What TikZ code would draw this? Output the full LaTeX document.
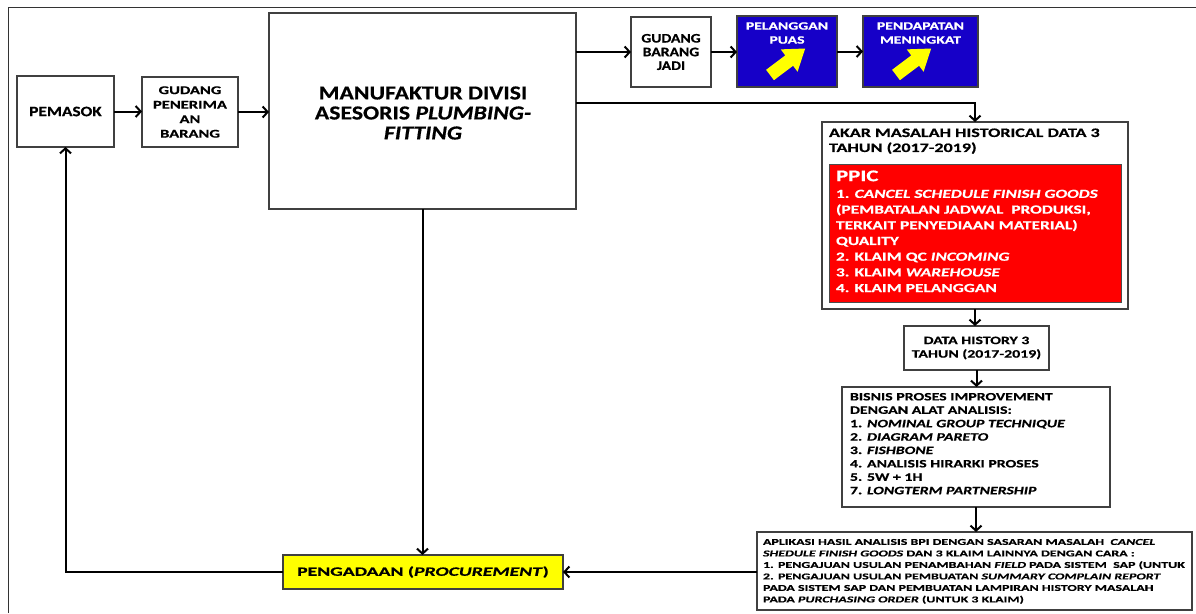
\documentclass[tikz,border=0pt]{standalone}
\usepackage{fontspec}
\setmainfont{Carlito}[FakeStretch=1.2, BoldFeatures={FakeBold=0.6}, BoldItalicFeatures={FakeBold=0.6}]
\newfontfamily\wide{Carlito}[FakeStretch=1.4, BoldFeatures={FakeBold=0.6}, BoldItalicFeatures={FakeBold=0.6}]
\newfontfamily\wider{Carlito}[FakeStretch=1.55, BoldFeatures={FakeBold=0.6}, BoldItalicFeatures={FakeBold=0.6}]
\usetikzlibrary{arrows.meta}

\definecolor{boxblue}{RGB}{22,0,200}
\definecolor{boxyellow}{RGB}{255,255,0}
\definecolor{boxred}{RGB}{255,0,0}
\newcommand\fsz[2]{\fontsize{#1}{#2}\selectfont\bfseries}

\begin{document}
\begin{tikzpicture}[x=1pt,y=-1pt,
  box/.style={draw=black!75, line width=1.2pt, inner sep=0pt, outer sep=0pt, fill=white},
  txt/.style={inner sep=0pt, outer sep=0pt},
  flow/.style={line width=2pt, -{Straight Barb[length=5pt,width=11pt,line width=2pt]}},
  uparrow/.style={fill=boxyellow, draw=none}]
\useasboundingbox (0,0) rectangle (1196,613);
\fill[white] (0,0) rectangle (1196,613);

% outer frame
\draw[black!80, line width=1pt] (8,613) -- (8,7) -- (1196,7);

% supply chain row
\node[box, minimum width=97, minimum height=71, font=\fsz{14.4}{16}] (pemasok) at (65.5,111.5) {PEMASOK};
\node[box, minimum width=96, minimum height=70, align=center, font=\wide\fsz{11.8}{14.5}] (gudang) at (190,112)
  {GUDANG\\PENERIMA\\AN\\BARANG};
\node[box, minimum width=307, minimum height=196] (manuf) at (422.5,111) {};
\node[txt, align=center, font=\fsz{19.8}{20}] (manuftxt) at (423,113)
  {MANUFAKTUR DIVISI\\ASESORIS \textit{PLUMBING-}\\\textit{FITTING}};
\node[box, minimum width=80, minimum height=70, align=center, font=\fsz{13}{13.7}] (gbj) at (671,52)
  {GUDANG\\BARANG\\JADI};
\node[box, fill=boxblue, minimum width=100, minimum height=71] (pel) at (787,51.5) {};
\node[box, fill=boxblue, minimum width=115, minimum height=71] (pend) at (920.5,51.5) {};
\node[txt, text=white, align=center, font=\wide\fsz{11.2}{14}] (peltxt) at (787,33) {PELANGGAN\\PUAS};
\node[txt, text=white, align=center, font=\wide\fsz{11.2}{14}] (pendtxt) at (920.5,33) {PENDAPATAN\\MENINGKAT};

% rising arrows inside the blue boxes
\foreach \b in {pel, pend} {
  \begin{scope}[shift={(\b.south west)}, shift={(33,-12)}, rotate=37]
    \fill[uparrow] (0,-6.5) -- (24,-6.5) -- (24,-14) -- (44,0) -- (24,14) -- (24,6.5) -- (0,6.5) -- cycle;
  \end{scope}
}

% root cause analysis column
\node[box, minimum width=306, minimum height=187] (akar) at (975,215.5) {};
\node[txt, anchor=north west, align=left, font=\wide\fsz{12.9}{15}] (akartxt) at (829,128.5)
  {AKAR MASALAH HISTORICAL DATA 3\\TAHUN (2017-2019)};
\node[box, fill=boxred, draw=black!70, line width=1pt, minimum width=292, minimum height=138] (ppic) at (975,233) {};
\node[txt, anchor=north west, align=left, text=white, font=\wide\fsz{12.4}{15.7}] (ppictxt) at (836,170.5)
  {{\fsz{16.3}{17}PPIC}\\[1pt]
   1. \textit{CANCEL SCHEDULE FINISH GOODS}\\
   (PEMBATALAN JADWAL~~PRODUKSI,\\
   TERKAIT PENYEDIAAN MATERIAL)\\
   QUALITY\\
   2. KLAIM QC \textit{INCOMING}\\
   3. KLAIM \textit{WAREHOUSE}\\
   4. KLAIM PELANGGAN};

\node[box, minimum width=145, minimum height=44, align=center, font=\wide\fsz{11.3}{13.5}] (hist) at (976.5,348)
  {DATA HISTORY 3\\TAHUN (2017-2019)};

\node[box, minimum width=268, minimum height=120] (bpi) at (976,447) {};
\node[txt, anchor=north west, align=left, font=\wide\fsz{11.3}{13.4}] (bpitxt) at (850,393)
  {BISNIS PROSES IMPROVEMENT\\
   DENGAN ALAT ANALISIS:\\
   1. \textit{NOMINAL GROUP TECHNIQUE}\\
   2. \textit{DIAGRAM PARETO}\\
   3. \textit{FISHBONE}\\
   4. ANALISIS HIRARKI PROSES\\
   5. 5W + 1H\\
   7. \textit{LONGTERM PARTNERSHIP}};

\node[box, minimum width=435, minimum height=78] (apl) at (974.5,571) {};
\node[txt, anchor=north west, align=left, font=\wider\fsz{9}{11.5}] (apltxt) at (763,539)
  {APLIKASI HASIL ANALISIS BPI DENGAN SASARAN MASALAH~~\textit{CANCEL}\\
   \textit{SHEDULE FINISH GOODS} DAN 3 KLAIM LAINNYA DENGAN CARA :\\
   1. PENGAJUAN USULAN PENAMBAHAN \textit{FIELD} PADA SISTEM~~SAP (UNTUK\\
   2. PENGAJUAN USULAN PEMBUATAN \textit{SUMMARY COMPLAIN REPORT}\\
   PADA SISTEM SAP DAN PEMBUATAN LAMPIRAN HISTORY MASALAH\\
   PADA \textit{PURCHASING ORDER} (UNTUK 3 KLAIM)};

\node[box, fill=boxyellow, minimum width=280, minimum height=34, font=\wider\fsz{12.7}{14}] (proc) at (423,572)
  {PENGADAAN (\textit{PROCUREMENT})};

% connectors
\draw[flow] (pemasok.east) -- (pemasok.east -| gudang.west);
\draw[flow] (gudang.east) -- (gudang.east -| manuf.west);
\draw[flow] (manuf.east |- gbj.west) -- (gbj.west);
\draw[flow] (gbj.east) -- (gbj.east -| pel.west);
\draw[flow] (pel.east) -- (pend.west);
\draw[flow] (manuf.east |- 0,103) -| (akar.north);
\draw[flow] (akar.south) -- (akar.south |- hist.north);
\draw[flow] (hist.south) -- (hist.south |- bpi.north);
\draw[flow] (bpi.south) -- (bpi.south |- apl.north);
\draw[flow] (apl.west |- proc.east) -- (proc.east);
\draw[flow] (manuf.south) -- (manuf.south |- proc.north);
\draw[flow] (proc.west) -| (pemasok.south);
\end{tikzpicture}
\end{document}
